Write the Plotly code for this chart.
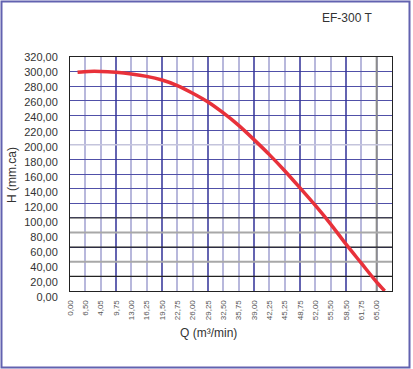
import plotly.graph_objects as go

# ---- data ----
q_values = [1.6, 4.0, 6.5, 9.75, 13.0, 16.25, 19.5, 22.75, 26.0, 29.25, 32.5,
            35.75, 39.0, 42.25, 45.5, 48.75, 52.0, 55.25, 58.5, 61.75, 65.0, 66.7]
h_values = [299.0, 300.3, 300.3, 299.0, 296.8, 293.5, 288.5, 281.0, 270.5, 258.5, 243.5,
            226.5, 207.0, 186.5, 164.5, 141.0, 117.0, 91.5, 64.0, 38.0, 12.0, 0.0]

x_tickvals = [i * 3.25 for i in range(21)]
x_ticktext = ["0,00", "6,50", "4,05", "9,75", "13,00", "16,25", "19,50", "22,75",
              "26,00", "29,25", "32,50", "35,75", "39,00", "42,25", "45,25", "48,75",
              "52,00", "55,50", "58,50", "61,75", "65,00"]
y_tickvals = list(range(0, 321, 20))
y_ticktext = [f"{v},00" for v in y_tickvals]

dark_x = [9.75, 19.5, 29.25, 39.0, 48.75, 58.5]
gray_x = [65.0]
special_y = {200: ("#c4c4dc", 1.5), 100: ("#3a3a3a", 1.2), 80: ("#a8a8a8", 2),
             60: ("#222222", 1.2), 40: ("#a8a8a8", 2), 20: ("#222222", 1.2)}

W, H = 413, 369
ML, MR, MT, MB = 70, 21, 57, 72
PW, PH = W - ML - MR, H - MT - MB


def px_x(p):
    return (p - ML) / PW


def px_y(p):
    return (H - MB - p) / PH


fig = go.Figure()
fig.add_trace(go.Scatter(x=q_values, y=h_values, mode="lines",
                         line=dict(color="#e8313a", width=3.5, shape="spline", smoothing=0.8),
                         showlegend=False, hoverinfo="skip"))
# dummy trace to activate the label axis
fig.add_trace(go.Scatter(x=[None], y=[None], xaxis="x2", yaxis="y2", showlegend=False))

shapes = []
for v in dark_x:
    shapes.append(dict(type="line", xref="x", yref="y", x0=v, x1=v, y0=0, y1=320,
                       line=dict(color="#2c2c94", width=1.2), layer="between"))
for v in gray_x:
    shapes.append(dict(type="line", xref="x", yref="y", x0=v, x1=v, y0=0, y1=320,
                       line=dict(color="#8c8c8c", width=2), layer="between"))
for v, (c, w) in special_y.items():
    shapes.append(dict(type="line", xref="x", yref="y", x0=0, x1=68.25, y0=v, y1=v,
                       line=dict(color=c, width=w), layer="between"))
# outer frame
shapes.append(dict(type="rect", xref="paper", yref="paper",
                   x0=px_x(1.5), x1=px_x(409.5), y0=px_y(367.5), y1=px_y(1.5),
                   line=dict(color="#6262b0", width=2), layer="below"))

fig.update_layout(
    width=W, height=H,
    margin=dict(l=ML, r=MR, t=MT, b=MB, autoexpand=False),
    paper_bgcolor="white", plot_bgcolor="rgba(0,0,0,0)",
    font=dict(family="Liberation Sans, Arial, sans-serif", color="#333333"),
    shapes=shapes,
    xaxis=dict(range=[0, 68.25], tickvals=x_tickvals, ticktext=x_ticktext,
               tickangle=-90, tickfont=dict(size=8, color="#555555"),
               showgrid=True, gridcolor="#b8b8dc", gridwidth=2,
               showline=True, linecolor="#222222", linewidth=1, mirror=True,
               zeroline=False, ticks="outside", ticklen=5, tickcolor="rgba(0,0,0,0)",
               anchor="y", automargin=False),
    yaxis=dict(range=[0, 320], domain=[(H - MB - 291) / PH, 1], tickvals=y_tickvals,
               showticklabels=False, showgrid=True, gridcolor="#5050a8", gridwidth=1,
               showline=True, linecolor="#222222", linewidth=1, mirror=True,
               zeroline=False, anchor="x", automargin=False),
    xaxis2=dict(visible=False, domain=[0, 1], anchor="y2", range=[0, 1], automargin=False),
    yaxis2=dict(range=[0, 320], domain=[0, 1], tickvals=y_tickvals, ticktext=y_ticktext,
                tickfont=dict(size=11, color="#333333"), showgrid=False, zeroline=False,
                showline=False, anchor="free", position=0, side="left", ticks="outside",
                ticklen=10, tickcolor="rgba(0,0,0,0)", automargin=False),
    annotations=[
        dict(text="EF-300 T", xref="paper", yref="paper", x=px_x(374), y=px_y(18),
             xanchor="right", yanchor="middle", showarrow=False,
             font=dict(size=12, color="#333333")),
        dict(text="H (mm.ca)", xref="paper", yref="paper", x=px_x(12), y=px_y(175),
             xanchor="center", yanchor="middle", showarrow=False, textangle=-90,
             font=dict(size=12, color="#333333")),
        dict(text="Q (m³/min)", xref="paper", yref="paper", x=px_x(208), y=px_y(333),
             xanchor="center", yanchor="middle", showarrow=False,
             font=dict(size=12, color="#333333")),
    ],
)

fig.write_html("out.html", config={"displayModeBar": False},
               post_script="document.body.style.margin='0';document.body.style.overflow='hidden';")
